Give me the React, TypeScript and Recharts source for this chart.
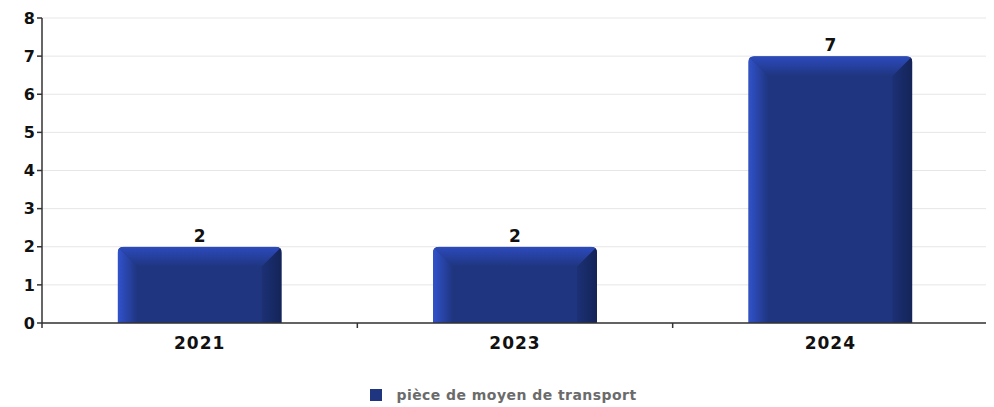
import React from "react";
import { BarChart, Bar, XAxis, YAxis, CartesianGrid, Legend, LabelList, ReferenceLine } from "recharts";

const categories = ["2021", "2023", "2024"];
const seriesValues = [2, 2, 7];
const yTicks = [0, 1, 2, 3, 4, 5, 6, 7, 8];
const boundaryTicks = [0, 1, 2, 3];
const seriesName = "pièce de moyen de transport";

const data = categories.map((c, i) => ({ year: c, value: seriesValues[i], idx: i + 0.5 }));

const FONT = "'DejaVu Sans', sans-serif";

const BevelBar = (props: any) => {
  const { x, y, width, height, index } = props;
  if (!height || height <= 0) return null;
  const b = Math.min(20, width / 4, height);
  const r = 6;
  const id = `clip-${index}`;
  const path = `M${x},${y + height} L${x},${y + r} Q${x},${y} ${x + r},${y} L${x + width - r},${y} Q${x + width},${y} ${x + width},${y + r} L${x + width},${y + height} Z`;
  return (
    <g>
      <defs>
        <clipPath id={id}>
          <path d={path} />
        </clipPath>
        <linearGradient id={`gl-${index}`} x1="0" y1="0" x2="1" y2="0">
          <stop offset="0%" stopColor="#3152cc" />
          <stop offset="100%" stopColor="#1f357f" />
        </linearGradient>
        <linearGradient id={`gt-${index}`} x1="0" y1="0" x2="0" y2="1">
          <stop offset="0%" stopColor="#2c4bbd" />
          <stop offset="100%" stopColor="#1f357f" />
        </linearGradient>
        <linearGradient id={`gr-${index}`} x1="0" y1="0" x2="1" y2="0">
          <stop offset="0%" stopColor="#1c3075" />
          <stop offset="100%" stopColor="#142458" />
        </linearGradient>
      </defs>
      <g clipPath={`url(#${id})`}>
        <rect x={x} y={y} width={width} height={height} fill="#1f357f" />
        <polygon
          points={`${x},${y} ${x + width},${y} ${x + width - b},${y + b} ${x + b},${y + b}`}
          fill={`url(#gt-${index})`}
        />
        <polygon
          points={`${x},${y} ${x + b},${y + b} ${x + b},${y + height} ${x},${y + height}`}
          fill={`url(#gl-${index})`}
        />
        <polygon
          points={`${x + width},${y} ${x + width},${y + height} ${x + width - b},${y + height} ${x + width - b},${y + b}`}
          fill={`url(#gr-${index})`}
        />
      </g>
    </g>
  );
};

const LegendContent = () => (
  <div style={{ display: "flex", justifyContent: "center", alignItems: "center", fontFamily: FONT, paddingLeft: 19 }}>
    <span style={{ display: "inline-block", width: 12, height: 12, background: "#1f357f", marginRight: 14 }} />
    <span style={{ fontSize: 14, fontWeight: "bold", color: "#6b6b6b", letterSpacing: 0.45 }}>{seriesName}</span>
  </div>
);

const EmptyTick = () => <g />;

export default function App() {
  return (
    <div style={{ marginLeft: -8, marginTop: -8 }}>
      <BarChart
        width={994}
        height={407}
        data={data}
        margin={{ top: 18, right: 6, left: 0, bottom: 33 }}
        barCategoryGap="24%"
      >
        <CartesianGrid vertical={false} xAxisId="cat" stroke="#e6e6e6" strokeWidth={1} />
        <XAxis
          type="number"
          dataKey="idx"
          domain={[0, 3]}
          ticks={boundaryTicks}
          interval={0}
          tick={<EmptyTick />}
          height={1}
          axisLine={{ stroke: "#333", strokeWidth: 1.5 }}
          tickLine={{ stroke: "#333", strokeWidth: 1.5 }}
          tickSize={5}
          allowDataOverflow
        />
        <XAxis
          xAxisId="cat"
          dataKey="year"
          height={30}
          tickLine={false}
          axisLine={false}
          tick={{ fontFamily: FONT, fontSize: 17, fontWeight: "bold", fill: "#111", letterSpacing: 1 }}
          tickMargin={7}
        />
        <YAxis
          width={42}
          domain={[0, 8]}
          ticks={yTicks}
          interval={0}
          allowDataOverflow
          axisLine={{ stroke: "#333", strokeWidth: 1.5 }}
          tickLine={{ stroke: "#333", strokeWidth: 1.5 }}
          tickSize={5}
          tickMargin={2}
          tick={{ fontFamily: FONT, fontSize: 16, fontWeight: "bold", fill: "#111" }}
        />
        <ReferenceLine
          segment={[
            { x: 3, y: 0 },
            { x: 3, y: -0.131 },
          ]}
          ifOverflow="visible"
          stroke="#333"
          strokeWidth={1.5}
        />
        <Legend verticalAlign="bottom" wrapperStyle={{ bottom: 0, height: 20 }} content={<LegendContent />} />
        <Bar
          dataKey="value"
          xAxisId="cat"
          name={seriesName}
          fill="#1f357f"
          shape={<BevelBar />}
          isAnimationActive={false}
        >
          <LabelList
            dataKey="value"
            position="top"
            offset={5}
            style={{ fontFamily: FONT, fontSize: 17, fontWeight: "bold", fill: "#111" }}
          />
        </Bar>
      </BarChart>
    </div>
  );
}
